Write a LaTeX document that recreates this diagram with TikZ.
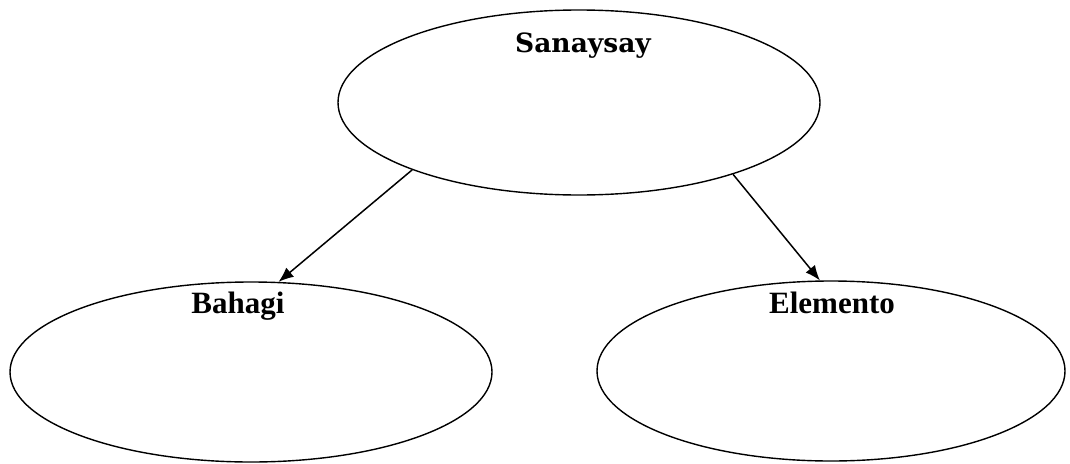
\documentclass[tikz,border=0pt]{standalone}
\usepackage{fontspec}
\setmainfont{Liberation Serif}
\newfontfamily\slabfont{DejaVu Serif}
\usetikzlibrary{shapes.geometric,arrows.meta}
\tikzset{
  oval/.style={draw=black, line width=1.4pt, ellipse, inner sep=0pt},
  lbl/.style={anchor=base, inner sep=0pt},
  conn/.style={line width=1.5pt, -{Latex[length=15pt,width=12pt]}}
}
\begin{document}
\begin{tikzpicture}[x=1pt,y=-1pt]
\useasboundingbox (0,0) rectangle (1070,463);
\node[oval, minimum width=482pt, minimum height=185pt] (top) at (579,102.5) {};
\node[oval, minimum width=482pt, minimum height=180pt] (left) at (251,372) {};
\node[oval, minimum width=468pt, minimum height=180pt] (right) at (831,371) {};
\node[lbl, font=\slabfont\bfseries\fontsize{26.5}{30}\selectfont] (t1) at (583,52) {Sanaysay};
\node[lbl, font=\bfseries\fontsize{31}{36}\selectfont] (t2) at (238,313) {Bahagi};
\node[lbl, font=\bfseries\fontsize{31}{36}\selectfont] (t3) at (832,313) {Elemento};
\draw[conn] (top.202) -- (left.73.7);
\draw[conn] (top.335.4) -- (right.97.5);
\end{tikzpicture}
\end{document}
